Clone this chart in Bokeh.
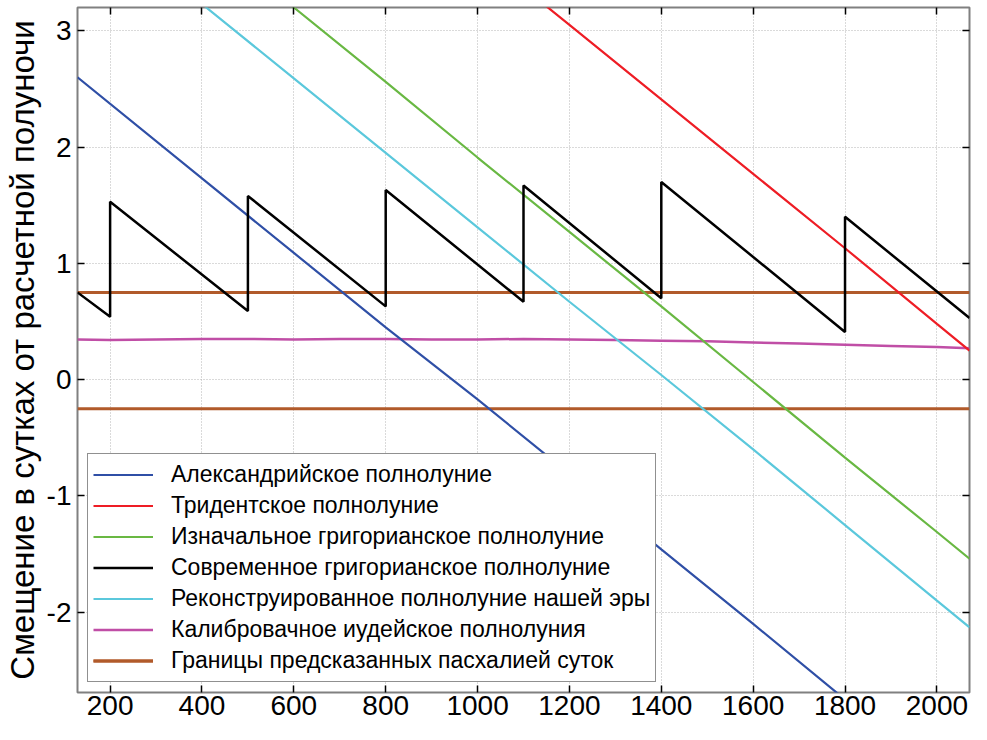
from bokeh.plotting import figure
from bokeh.models import Range1d, LinearAxis, FixedTicker, Legend, LegendItem
from bokeh.embed import file_html
from bokeh.resources import INLINE

# ---- data ----
x_ticks = [200, 400, 600, 800, 1000, 1200, 1400, 1600, 1800, 2000]
y_ticks = [-2, -1, 0, 1, 2, 3]
y_tick_labels = {-2: "-2", -1: "-1", 0: "0", 1: "1", 2: "2", 3: "3"}

alex_x = [129, 400, 600, 800, 1000, 1200, 1400, 1600, 1800, 2000]
alex_y = [2.60, 1.73, 1.09, 0.45, -0.17, -0.81, -1.46, -2.10, -2.75, -3.39]

trid_x = [1100, 1200, 1400, 1600, 1800, 2000, 2071]
trid_y = [3.37, 3.05, 2.41, 1.77, 1.13, 0.48, 0.25]

init_x = [550, 600, 800, 1000, 1200, 1400, 1600, 1800, 2000, 2071]
init_y = [3.36, 3.20, 2.56, 1.91, 1.27, 0.63, -0.02, -0.67, -1.31, -1.54]

mod_x = [129, 200, 200, 500, 500, 800, 800, 1100, 1100, 1400, 1400, 1800, 1800, 2071]
mod_y = [0.75, 0.54, 1.53, 0.59, 1.58, 0.63, 1.63, 0.67, 1.67, 0.70, 1.70, 0.41, 1.40, 0.53]

rec_x = [350, 400, 600, 800, 1000, 1200, 1400, 1600, 1800, 2000, 2071]
rec_y = [3.39, 3.23, 2.59, 1.95, 1.31, 0.67, 0.04, -0.60, -1.25, -1.90, -2.13]

cal_x = [129, 200, 300, 400, 500, 600, 700, 800, 900, 1000, 1100, 1200, 1300,
         1400, 1500, 1600, 1700, 1800, 1900, 2000, 2071]
cal_y = [0.345, 0.34, 0.345, 0.35, 0.35, 0.345, 0.35, 0.35, 0.345, 0.345, 0.35,
         0.345, 0.34, 0.335, 0.33, 0.32, 0.31, 0.30, 0.29, 0.28, 0.27]

bound_x = [129, 2071]
bound_upper = [0.75, 0.75]
bound_lower = [-0.25, -0.25]

labels = [
    "Александрийское полнолуние",
    "Тридентское полнолуние",
    "Изначальное григорианское полнолуние",
    "Современное григорианское полнолуние",
    "Реконструированное полнолуние нашей эры",
    "Калибровачное иудейское полнолуния",
    "Границы предсказанных пасхалией суток",
]
colors = ["#2f4fa6", "#ee1d25", "#69b843", "#000000", "#5bc8dc", "#c04ea6", "#b15a2a"]

FONT = "Liberation Sans"

p = figure(width=971, height=724,
           x_range=Range1d(129, 2071), y_range=Range1d(-2.69, 3.2),
           output_backend="svg", toolbar_location=None,
           min_border_left=77, min_border_right=2, min_border_top=7, min_border_bottom=32)

p.outline_line_color = "#808080"
p.outline_line_width = 2
p.background_fill_color = "white"

for ax in [p.xaxis[0], p.yaxis[0]]:
    ax.axis_line_color = None
    ax.major_tick_in = 7
    ax.major_tick_out = 0
    ax.minor_tick_line_color = None
    ax.major_tick_line_color = "black"
    ax.major_tick_line_width = 1.5
    ax.major_label_text_font = FONT
    ax.major_label_text_font_size = "28px"
    ax.major_label_text_color = "black"
    ax.major_label_standoff = 3

p.xaxis[0].ticker = FixedTicker(ticks=x_ticks)
p.yaxis[0].ticker = FixedTicker(ticks=y_ticks)
p.yaxis[0].major_label_overrides = y_tick_labels
p.yaxis[0].major_label_standoff = 6
p.yaxis[0].axis_label = "Смещение в сутках от расчетной полуночи"
p.yaxis[0].axis_label_text_font = FONT
p.yaxis[0].axis_label_text_font_size = "33px"
p.yaxis[0].axis_label_text_font_style = "normal"
p.yaxis[0].axis_label_text_color = "black"
p.yaxis[0].axis_label_standoff = 3

for loc, tks in [("above", x_ticks), ("right", y_ticks)]:
    a = LinearAxis(ticker=FixedTicker(ticks=tks), major_tick_in=7, major_tick_out=0,
                   axis_line_color=None, minor_tick_line_color=None,
                   major_label_text_font_size="0px", major_label_standoff=0,
                   major_tick_line_color="black", major_tick_line_width=1.5)
    p.add_layout(a, loc)

p.xgrid.ticker = FixedTicker(ticks=x_ticks)
p.ygrid.ticker = FixedTicker(ticks=y_ticks)
for g in [p.xgrid[0], p.ygrid[0]]:
    g.grid_line_color = "#b4b4b4"
    g.grid_line_dash = "1 2"
    g.grid_line_width = 1

r_cal = p.line(cal_x, cal_y, line_color=colors[5], line_width=2.5)
r_b1 = p.line(bound_x, bound_upper, line_color=colors[6], line_width=3)
r_b2 = p.line(bound_x, bound_lower, line_color=colors[6], line_width=3)
r_alex = p.line(alex_x, alex_y, line_color=colors[0], line_width=2.2)
r_trid = p.line(trid_x, trid_y, line_color=colors[1], line_width=2.2)
r_init = p.line(init_x, init_y, line_color=colors[2], line_width=2.2)
r_rec = p.line(rec_x, rec_y, line_color=colors[4], line_width=2.2)
r_mod = p.line(mod_x, mod_y, line_color=colors[3], line_width=2.5)

items = [
    LegendItem(label=labels[0], renderers=[r_alex]),
    LegendItem(label=labels[1], renderers=[r_trid]),
    LegendItem(label=labels[2], renderers=[r_init]),
    LegendItem(label=labels[3], renderers=[r_mod]),
    LegendItem(label=labels[4], renderers=[r_rec]),
    LegendItem(label=labels[5], renderers=[r_cal]),
    LegendItem(label=labels[6], renderers=[r_b1, r_b2]),
]
legend = Legend(items=items, location=(10, 10),
                border_line_color="#222222", border_line_width=1.5,
                background_fill_color="white", background_fill_alpha=1,
                label_text_font=FONT, label_text_font_size="23px",
                label_text_color="black",
                glyph_width=60, glyph_height=31, label_height=31,
                label_standoff=18, padding=5, spacing=0, margin=0)
p.add_layout(legend, "center")

open("out.html", "w").write(file_html(p, INLINE))
